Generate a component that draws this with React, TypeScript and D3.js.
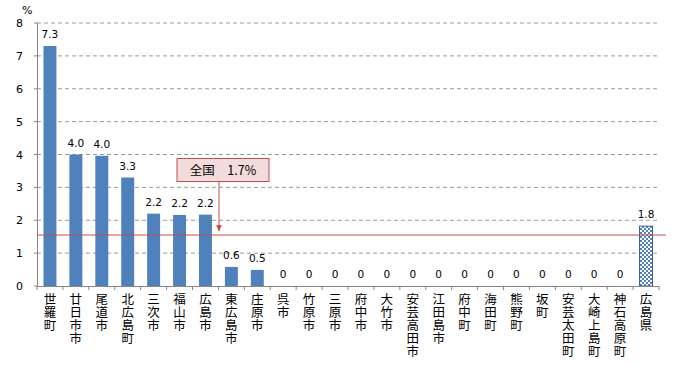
import React from "react";
import { scaleBand, scaleLinear, range } from "d3";

const areas = [
  "世羅町", "廿日市市", "尾道市", "北広島町", "三次市", "福山市", "広島市", "東広島市",
  "庄原市", "呉市", "竹原市", "三原市", "府中市", "大竹市", "安芸高田市", "江田島市",
  "府中町", "海田町", "熊野町", "坂町", "安芸太田町", "大崎上島町", "神石高原町", "広島県"
];
const rates = [
  7.3, 4.0, 3.96, 3.3, 2.2, 2.16, 2.17, 0.58, 0.49, 0, 0, 0,
  0, 0, 0, 0, 0, 0, 0, 0, 0, 0, 0, 1.82
];
const yTicks = [0, 1, 2, 3, 4, 5, 6, 7, 8];
const nationalLine = 1.55; // where the line sits in the picture
const nationalLabel = "全国　1.7%";

const W = 690;
const H = 365;
const m = { left: 37, right: 659, top: 23, bottom: 286 };

export default function App() {
  const x = scaleBand<string>().domain(areas).range([m.left, m.right]).padding(0.5).paddingOuter(0.25);
  const y = scaleLinear().domain([0, 8]).range([m.bottom, m.top]);
  const step = (m.right - m.left) / areas.length;
  const jp = "'Noto Sans CJK JP', sans-serif";
  const num = "'DejaVu Sans', sans-serif";
  const lineY = y(nationalLine);
  const arrowX = 219;

  return (
    <svg width={W} height={H} style={{ position: "absolute", left: 0, top: 0, background: "#fff" }}>
      <defs>
        <pattern id="chk" width={4} height={4} patternUnits="userSpaceOnUse">
          <rect width={4} height={4} fill="#fff" />
          <rect width={2} height={2} fill="#4f81bd" />
          <rect x={2} y={2} width={2} height={2} fill="#4f81bd" />
        </pattern>
        <marker id="arr" viewBox="0 0 10 10" refX={9} refY={5} markerWidth={7} markerHeight={7} orient="auto">
          <path d="M0,1 L10,5 L0,9 z" fill="#c0504d" />
        </marker>
      </defs>

      {/* grid */}
      {yTicks.filter((t) => t > 0).map((t) => (
        <line key={t} x1={m.left} x2={m.right} y1={y(t)} y2={y(t)} stroke="#9a9a9a" strokeDasharray="4,3" strokeWidth={1} />
      ))}

      {/* y axis */}
      <line x1={m.left + 0.5} x2={m.left + 0.5} y1={m.top} y2={m.bottom} stroke="#868686" />
      {yTicks.map((t) => (
        <g key={t}>
          <line x1={m.left - 3} x2={m.left} y1={y(t)} y2={y(t)} stroke="#868686" />
          <text x={23} y={y(t) + 4} textAnchor="end" fontSize={11} fontFamily={num} fill="#000">{t}</text>
        </g>
      ))}
      <text x={22} y={14} fontSize={11} fontFamily={num} fill="#000">%</text>

      {/* bars */}
      {areas.map((a, i) => {
        const v = rates[i];
        const bx = x(a)!;
        const last = i === areas.length - 1;
        return (
          <g key={a}>
            {v > 0 && (
              <rect x={bx} y={y(v)} width={x.bandwidth()} height={y(0) - y(v)}
                fill={last ? "url(#chk)" : "#4f81bd"} stroke={last ? "#385d8a" : "none"} />
            )}
            <text x={bx + x.bandwidth() / 2} y={y(v) - 8} textAnchor="middle" fontSize={10.5} fontFamily={num} fill="#000">
              {v === 0 ? "0" : v.toFixed(1)}
            </text>
          </g>
        );
      })}

      {/* x axis */}
      <line x1={m.left} x2={m.right} y1={m.bottom + 0.5} y2={m.bottom + 0.5} stroke="#868686" />
      {range(areas.length + 1).map((k) => (
        <line key={k} x1={m.left + k * step} x2={m.left + k * step} y1={m.bottom} y2={m.bottom + 4} stroke="#868686" />
      ))}
      {areas.map((a) => (
        <text key={a} fontSize={12.5} fontFamily={jp} fill="#000" textAnchor="middle">
          {a.split("").map((c, j) => (
            <tspan key={j} x={x(a)! + x.bandwidth() / 2} y={304 + j * 13}>{c}</tspan>
          ))}
        </text>
      ))}

      {/* national average */}
      <line x1={m.left} x2={666} y1={lineY} y2={lineY} stroke="#c0504d" strokeWidth={1} />
      <line x1={arrowX} x2={arrowX} y1={182} y2={231} stroke="#c0504d" markerEnd="url(#arr)" />
      <rect x={177} y={158.5} width={92} height={23} fill="#f2dcdb" stroke="#c0504d" />
      <text x={223} y={175} textAnchor="middle" fontSize={12.5} fontFamily={jp} fill="#000">{nationalLabel}</text>
    </svg>
  );
}
